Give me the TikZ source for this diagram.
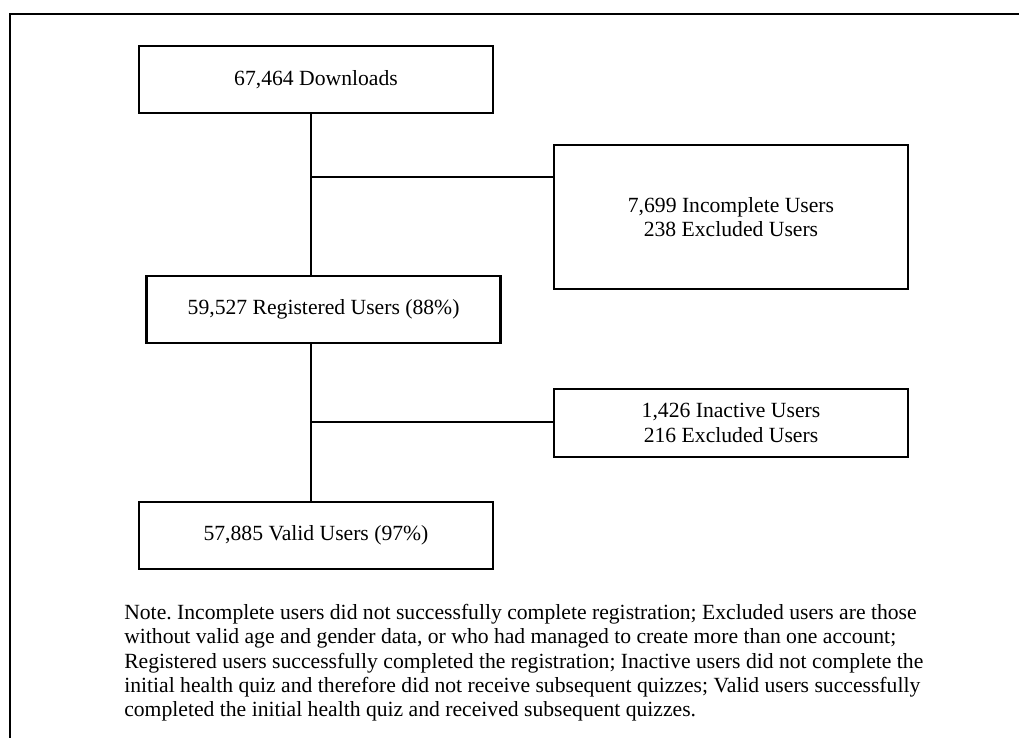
\documentclass[tikz,border=0pt]{standalone}
\usepackage{fontspec}
\setmainfont{Liberation Serif}
\usepackage{tikz}
\usetikzlibrary{positioning}
\frenchspacing

\begin{document}
\begin{tikzpicture}[
        stage/.style={draw, line width=1.6pt, minimum width=8.85cm, minimum height=1.675cm, inner sep=0pt, align=center, font=\fontsize{15.4}{17.2}\selectfont},
        link/.style={line width=1.5pt}
    ]
        \useasboundingbox (0,0) rectangle (25.475,-18.45);
        \draw[line width=1.8pt] (25.475,-0.35) -- (0.25,-0.35) -- (0.25,-18.45);
        
        \node[stage] (dl) at (7.9, -1.99) {67,464 Downloads};
        \node[stage] (reg) at (8.09, -7.74) {59,527 Registered Users (88\%)};
        \node[stage] (valid) at (7.9, -13.39) {57,885 Valid Users (97\%)};
        \node[stage, minimum height=3.6cm] (inc) at (18.275, -5.425) {7,699 Incomplete Users\\238 Excluded Users};
        \node[stage, minimum height=1.7cm] (inact) at (18.275, -10.575) {1,426 Inactive Users\\216 Excluded Users};
        
        \coordinate (j1) at (7.775, -4.425);
        \coordinate (j2) at (7.775, -10.55);
        
        \draw[link] (j1 |- dl.south) -- (j1 |- reg.north);
        \draw[link] (j1) -- (inc.west |- j1);
        \draw[link] (j2 |- reg.south) -- (j2 |- valid.north);
        \draw[link] (j2) -- (inact.west |- j2);
        
        \node[anchor=north west, inner sep=0pt, align=left, font=\fontsize{15.4}{17.3}\selectfont] (note) at (3.1, -15.1) {Note. Incomplete users did not successfully complete registration; Excluded users are those\\without valid age and gender data, or who had managed to create more than one account;\\Registered users successfully completed the registration; Inactive users did not complete the\\initial health quiz and therefore did not receive subsequent quizzes; Valid users successfully\\completed the initial health quiz and received subsequent quizzes.};
    \end{tikzpicture}
\end{document}
